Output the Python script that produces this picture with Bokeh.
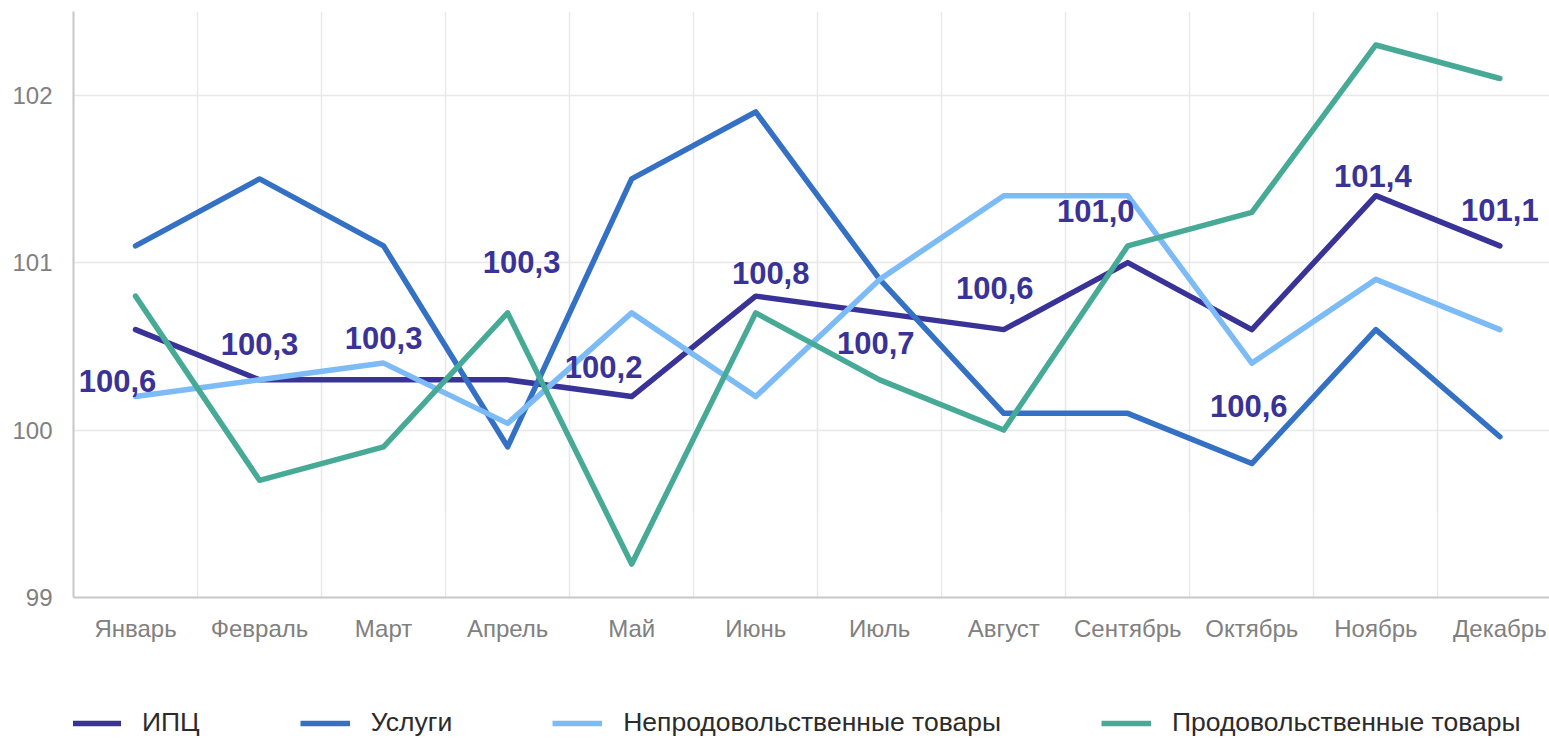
from bokeh.plotting import figure
from bokeh.layouts import column
from bokeh.models import (ColumnDataSource, Range1d, FixedTicker, Legend, LegendItem)
from bokeh.core.properties import value
from bokeh.embed import file_html
from bokeh.resources import INLINE

months = ["Январь", "Февраль", "Март", "Апрель", "Май", "Июнь", "Июль",
          "Август", "Сентябрь", "Октябрь", "Ноябрь", "Декабрь"]
series_names = ["ИПЦ", "Услуги", "Непродовольственные товары", "Продовольственные товары"]
cpi = [100.6, 100.3, 100.3, 100.3, 100.2, 100.8, 100.7, 100.6, 101.0, 100.6, 101.4, 101.1]
services = [101.1, 101.5, 101.1, 99.9, 101.5, 101.9, 100.9, 100.1, 100.1, 99.8, 100.6, 99.96]
nonfood = [100.2, 100.3, 100.4, 100.04, 100.7, 100.2, 100.9, 101.4, 101.4, 100.4, 100.9, 100.6]
food = [100.8, 99.7, 99.9, 100.7, 99.2, 100.7, 100.3, 100.0, 101.1, 101.3, 102.3, 102.1]
y_ticks = [99, 100, 101, 102]

# label placement offsets in pixels (styling)
label_dx = [-18, 0, 0, 14, -28, 15, -4, -9, -32, -3, -3, 0]
label_dy = [51, -36, -42, -118, -30, -23, 30, -42, -52, 76, -20, -36]

colors = ["#393297", "#3471c5", "#7dbbf7", "#47aa97"]
LW = 5.5

xs = [i + 0.5 for i in range(len(months))]

p = figure(width=1549, height=700, output_backend="svg", toolbar_location=None,
           x_range=Range1d(0, 11.9), y_range=Range1d(99, 102.5),
           min_border_left=73, min_border_right=0, min_border_top=11,
           min_border_bottom=103)
p.outline_line_color = None
p.background_fill_color = "white"

sources = []
for vals, col in zip([cpi, services, nonfood, food], colors):
    src = ColumnDataSource(dict(x=xs, y=vals))
    sources.append(src)
    p.line("x", "y", source=src, line_color=col, line_width=LW,
           line_join="round", line_cap="round")

lab_src = ColumnDataSource(dict(x=xs, y=cpi,
                                t=[f"{v:.1f}".replace(".", ",") for v in cpi],
                                dx=label_dx, dy=label_dy))
p.text("x", "y", text="t", source=lab_src, x_offset="dx", y_offset="dy",
       text_font=value("Liberation Sans"), text_font_style="bold",
       text_font_size="31px", text_color=colors[0],
       text_align="center", text_baseline="middle")

# axes
p.xaxis.ticker = FixedTicker(ticks=xs)
p.xaxis.major_label_overrides = {x: m for x, m in zip(xs, months)}
p.yaxis.ticker = FixedTicker(ticks=y_ticks)
for ax in (p.xaxis, p.yaxis):
    ax.major_tick_line_color = None
    ax.minor_tick_line_color = None
    ax.major_tick_out = 0
    ax.major_tick_in = 0
    ax.major_label_text_font = "Liberation Sans"
    ax.major_label_text_font_size = "24px"
    ax.major_label_text_color = "#808080"
    ax.axis_line_color = "#c8c8c8"
    ax.axis_line_width = 2
p.xaxis.major_label_standoff = 17
p.yaxis.major_label_standoff = 21

p.xgrid.ticker = FixedTicker(ticks=list(range(1, 12)))
p.ygrid.ticker = FixedTicker(ticks=y_ticks)
for g in (p.xgrid, p.ygrid):
    g.grid_line_color = "#e8e8e8"
    g.grid_line_width = 1.5

# legend strip below the chart (series drawn off-view, only legend shows)
leg = figure(width=1549, height=38, output_backend="svg", toolbar_location=None,
             x_range=Range1d(100, 101), y_range=Range1d(0, 1),
             x_axis_location=None, y_axis_location=None,
             min_border_left=0, min_border_right=0, min_border_top=0, min_border_bottom=0)
leg.grid.visible = False
leg.outline_line_color = None
items = []
for name, col, src in zip(series_names, colors, sources):
    r = leg.line("x", "y", source=src, line_color=col, line_width=LW)
    items.append(LegendItem(label=name, renderers=[r]))
legend = Legend(items=items, orientation="horizontal", location=(-2, 0),
                glyph_width=50, glyph_height=20, label_standoff=21, spacing=100,
                padding=0, margin=0, border_line_color=None,
                background_fill_alpha=0,
                label_text_font="Liberation Sans", label_text_font_size="26.5px",
                label_text_color="#2b2b2b")
leg.add_layout(legend, "center")

layout = column(p, leg, spacing=0)
open("out.html", "w").write(file_html(layout, INLINE))
